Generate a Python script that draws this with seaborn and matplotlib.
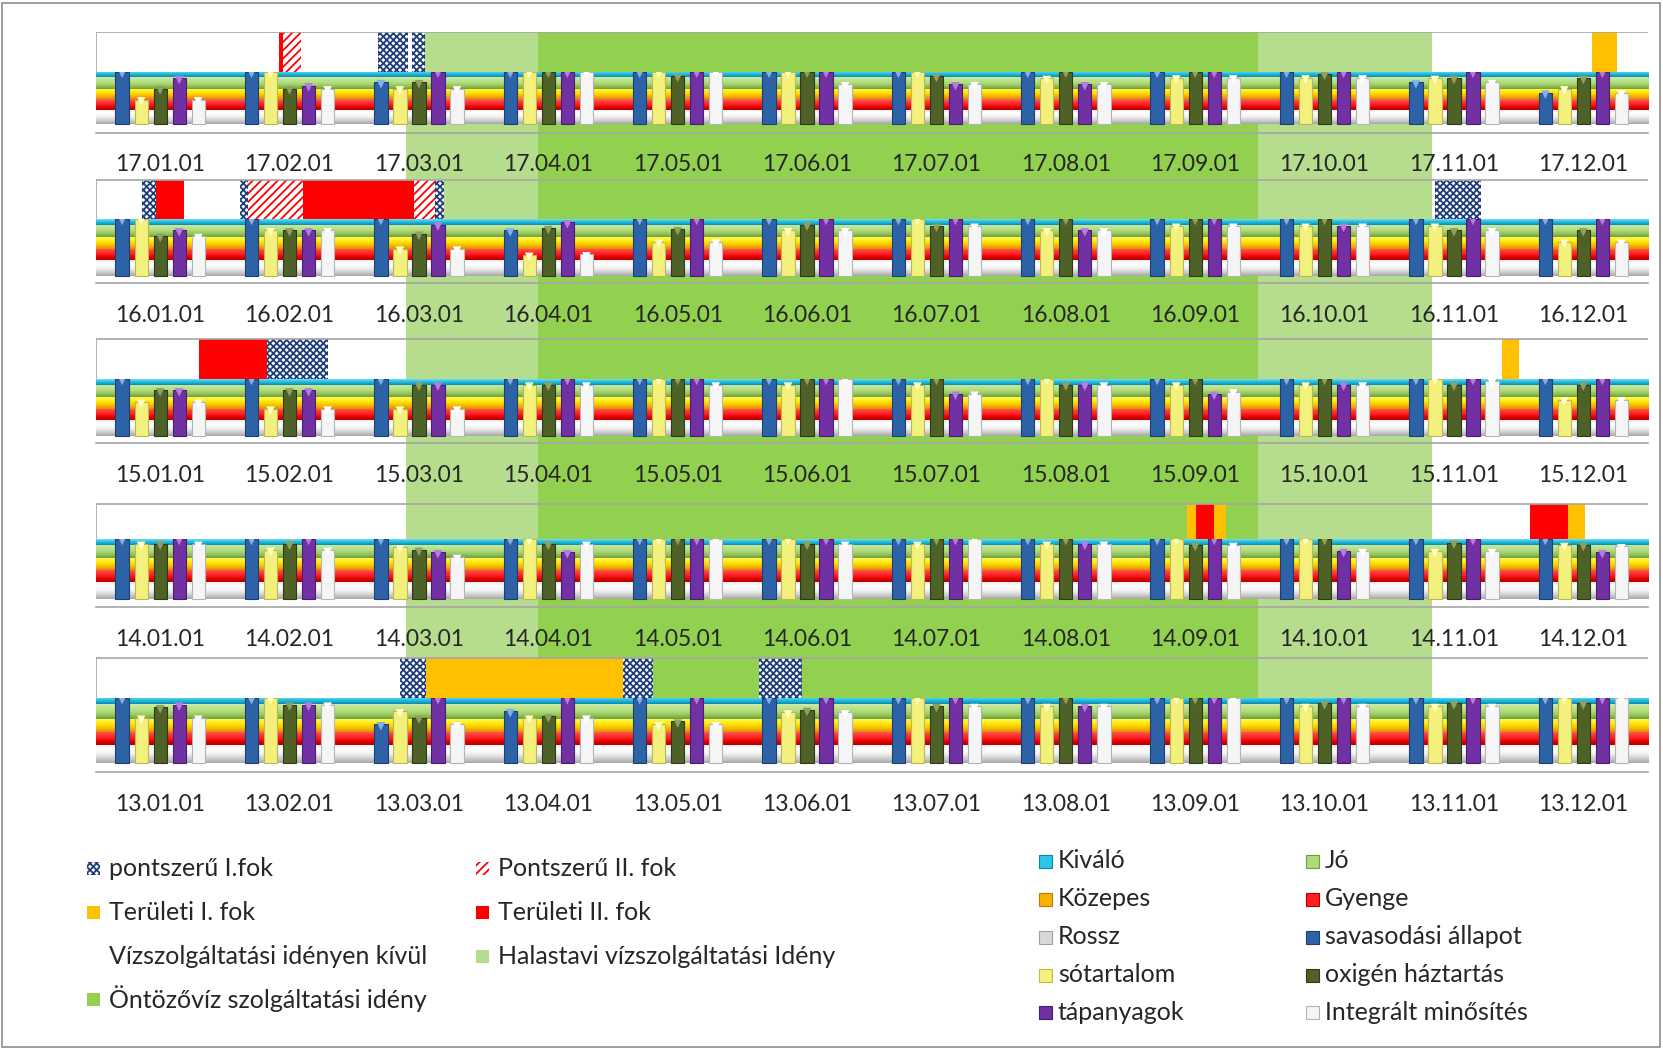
import numpy as np
import pandas as pd
import matplotlib.pyplot as plt
import seaborn as sns
from matplotlib.patches import Rectangle
from matplotlib.colors import to_rgb

sns.set_style('white')
plt.rcParams['font.family'] = ['Lato', 'DejaVu Sans']
plt.rcParams['hatch.linewidth'] = 1.3

# --- data -------------------------------------------------------------
years = ['17', '16', '15', '14', '13']
months = ['01', '02', '03', '04', '05', '06', '07', '08', '09', '10', '11', '12']
params = ['savasodási állapot', 'sótartalom', 'oxigén háztartás', 'tápanyagok', 'Integrált minősítés']

# bar heights (0..5 scale, 5 = Kiváló)
savasodasi = {
    '17': [5, 5, 4.0, 5, 5, 5, 5, 5, 5, 5, 4.0, 3.0],
    '16': [5, 5, 5, 4.0, 5, 5, 5, 5, 5, 5, 5, 5],
    '15': [5, 5, 5, 5, 5, 5, 5, 5, 5, 5, 5, 5],
    '14': [5, 5, 5, 5, 5, 5, 5, 5, 5, 5, 5, 5],
    '13': [5, 5, 3.0, 4.0, 5, 5, 5, 5, 5, 5, 5, 5],
}
sotartalom = {
    '17': [2.35, 5, 3.4, 5, 5, 5, 5, 4.4, 4.45, 4.45, 4.4, 3.4],
    '16': [5, 4.0, 2.4, 1.85, 3.0, 4.0, 5, 4.0, 4.4, 4.4, 4.4, 3.0],
    '15': [3.0, 2.4, 2.4, 4.5, 5, 4.5, 4.5, 5, 4.5, 4.5, 5, 3.2],
    '14': [4.6, 4.1, 4.3, 5, 5, 5, 4.6, 4.6, 5, 5, 4.0, 4.5],
    '13': [3.5, 5, 4.0, 3.5, 3.0, 3.9, 5, 4.4, 5, 4.4, 4.4, 5],
}
oxigen = {
    '17': [3.4, 3.4, 4.0, 5, 4.6, 5, 4.6, 5, 5, 4.8, 4.4, 4.4],
    '16': [3.5, 4.0, 3.7, 4.2, 4.1, 4.5, 4.4, 5, 5, 5, 4.0, 4.0],
    '15': [4.0, 4.0, 4.5, 4.5, 5, 5, 5, 4.5, 5, 5, 4.5, 4.5],
    '14': [4.6, 4.6, 4.1, 4.6, 5, 4.6, 5, 5, 4.5, 5, 4.7, 4.5],
    '13': [4.3, 4.5, 3.5, 3.6, 3.2, 4.1, 4.4, 5, 5, 4.6, 4.6, 4.6],
}
tapanyag = {
    '17': [4.4, 3.7, 5, 5, 5, 5, 3.8, 3.8, 5, 5, 5, 5],
    '16': [4.0, 4.0, 4.5, 4.7, 5, 5, 5, 4.0, 5, 4.4, 5, 5],
    '15': [4.0, 4.0, 4.5, 5, 5, 5, 3.7, 4.5, 3.7, 4.5, 5, 5],
    '14': [5, 5, 3.9, 3.9, 5, 5, 5, 4.6, 5, 4.0, 5, 3.9],
    '13': [4.5, 4.5, 5, 5, 5, 5, 5, 4.4, 5, 5, 5, 5],
}
integralt = {
    '17': [2.35, 3.4, 3.4, 5, 5, 3.8, 3.8, 3.8, 4.45, 4.45, 4.0, 3.0],
    '16': [3.5, 4.0, 2.4, 1.9, 3.0, 4.0, 4.4, 4.0, 4.4, 4.4, 4.0, 3.0],
    '15': [3.0, 2.4, 2.4, 4.5, 4.5, 5, 3.7, 4.5, 3.9, 4.5, 4.8, 3.2],
    '14': [4.6, 4.1, 3.5, 4.6, 5, 4.6, 5, 4.6, 4.5, 4.0, 4.0, 4.4],
    '13': [3.5, 4.5, 3.0, 3.5, 3.0, 3.9, 4.4, 4.4, 5, 4.4, 4.4, 5],
}

# alert periods in months from Jan 1: (start, end, kind)
# p1 = pontszerű I.fok, p2 = Pontszerű II. fok, t1 = Területi I. fok,
# t2 = Területi II. fok, off = Vízszolgáltatási idényen kívül
events = {
    '17': [(1.42, 1.45, 't2'), (1.45, 1.59, 'p2'), (2.18, 2.415, 'p1'),
           (2.415, 2.446, 'off'), (2.446, 2.546, 'p1'), (11.57, 11.76, 't1')],
    '16': [(0.36, 0.468, 'p1'), (0.468, 0.684, 't2'), (1.117, 1.179, 'p1'),
           (1.179, 1.604, 'p2'), (1.604, 2.462, 't2'), (2.462, 2.624, 'p2'),
           (2.624, 2.694, 'p1'), (10.35, 10.71, 'p1')],
    '15': [(0.80, 1.325, 't2'), (1.325, 1.797, 'p1'), (10.87, 11.0, 't1')],
    '14': [(8.44, 8.506, 't1'), (8.506, 8.648, 't2'), (8.648, 8.738, 't1'),
           (11.088, 11.384, 't2'), (11.384, 11.513, 't1')],
    '13': [(2.354, 2.554, 'p1'), (2.554, 4.075, 't1'), (4.075, 4.307, 'p1'),
           (5.131, 5.459, 'p1')],
}

halastavi_idény = (2.40, 10.33)
ontozo_idény = (3.42, 8.985)

# quality bands (lower, upper) on the 0..5 scale
band_names = ['Rossz', 'Gyenge', 'Közepes', 'Jó', 'Kiváló']
band_limits = [(0, 1.39), (1.39, 2.40), (2.40, 3.40), (3.40, 4.50), (4.50, 5.0)]

# --- style ------------------------------------------------------------
bar_colors = ['#2D62A6', '#F4F07C', '#4E6127', '#7131A3', '#F5F5F5']
bar_edges = ['#1C3F6E', '#BDB75A', '#2F3B16', '#4A1E6E', '#B5B5B5']
cap_colors = ['#7FB2EA', '#FFFFC0', '#8FA060', '#B27FE0', '#FFFFFF']
band_stops = [
    ['#A6A6A6', '#D0D0D0', '#F2F2F2', '#FFFFFF', '#EDEDED'],
    ['#B40000', '#E20000', '#FF1E1E', '#FF3A3A', '#FF6262'],
    ['#E08C00', '#F5B300', '#FFD800', '#FFEF1A', '#FFF45A'],
    ['#6E9E3A', '#92C45A', '#AEDB78', '#BEE38E', '#CDEBA6'],
    ['#0C86A6', '#18ADD2', '#2BC6E8', '#7EDDF2'],
]
event_style = {
    'p1': dict(facecolor='white', edgecolor='#1F3C7A', hatch='xxxxx', linewidth=0),
    'p2': dict(facecolor='white', edgecolor='#FF0000', hatch='////', linewidth=0),
    't1': dict(facecolor='#FFC000', edgecolor='none', linewidth=0),
    't2': dict(facecolor='#FF0000', edgecolor='none', linewidth=0),
    'off': dict(facecolor='white', edgecolor='none', linewidth=0),
}
LIGHT_GREEN = '#B6DD8D'
GREEN = '#92D050'
GRID = '#A6A6A6'
TXT = '#262626'
TICK_FS = 16.5
LEG_FS = 18

# pixel layout: shade top, strip top, band top, band bottom, axis line
W, H = 1663, 1049
X0, X1 = 95.5, 1648
layout = {
    '17': (32, 32, 72, 124, 132.7),
    '16': (124, 180, 219, 276, 283),
    '15': (276, 339, 379, 436, 443),
    '14': (436, 504, 539, 599, 607),
    '13': (599, 658, 698, 763, 772),
}


def band_image(ax, y0, y1, stops):
    t = np.linspace(0, 1, 64)
    cols = np.array([to_rgb(c) for c in stops])
    xs = np.linspace(0, 1, len(stops))
    img = np.stack([np.interp(t, xs, cols[:, k]) for k in range(3)], axis=-1)[:, None, :]
    ax.imshow(img, extent=(-0.5, 11.5, y0, y1), origin='lower', aspect='auto',
              interpolation='bilinear', zorder=0.5)


fig = plt.figure(figsize=(W / 100, H / 100), dpi=100)

for r, yr in enumerate(years):
    shade_top, strip_top, band_top, band_bot, axis_y = layout[yr]
    labels = [f'{yr}.{m}.01' for m in months]

    # event strip + season shading
    axs = fig.add_axes([X0 / W, 1 - band_top / H, (X1 - X0) / W, (band_top - shade_top) / H], zorder=1)
    s = (band_top - strip_top) / (band_top - shade_top)
    axs.set_xlim(-0.5, 11.5)
    axs.set_ylim(0, 1)
    axs.axvspan(halastavi_idény[0] - 0.5, halastavi_idény[1] - 0.5, color=LIGHT_GREEN, lw=0, zorder=0)
    axs.axvspan(ontozo_idény[0] - 0.5, ontozo_idény[1] - 0.5, color=GREEN, lw=0, zorder=0.1)
    for a, b, kind in events[yr]:
        axs.barh(s / 2, b - a, left=a - 0.5, height=s, zorder=2, **event_style[kind])
    axs.axhline(s, color=GRID, lw=1.2, zorder=3)
    axs.axvline(-0.5, ymin=0, ymax=s, color=GRID, lw=1.2, zorder=3)
    axs.axis('off')

    # quality bands + bars
    pxu = (band_bot - band_top) / 5
    ax = fig.add_axes([X0 / W, 1 - axis_y / H, (X1 - X0) / W, (axis_y - band_top) / H], zorder=10 - r)
    ax.patch.set_alpha(0)
    for (lo, hi), stops in zip(band_limits, band_stops):
        band_image(ax, lo, hi, stops)

    df = pd.DataFrame({
        'honap': labels * 5,
        'parameter': np.repeat(params, 12),
        'ertek': np.concatenate([savasodasi[yr], sotartalom[yr], oxigen[yr],
                                 tapanyag[yr], integralt[yr]]),
    })
    sns.barplot(data=df, x='honap', y='ertek', hue='parameter', order=labels,
                hue_order=params, palette=bar_colors, saturation=1, width=0.735,
                gap=0.3, errorbar=None, legend=False, ax=ax, zorder=2)
    for k, p in enumerate(ax.patches):
        j = k // 12
        p.set_edgecolor(bar_edges[j])
        p.set_linewidth(0.8)
        cx = p.get_x() + p.get_width() / 2
        ax.scatter(cx, p.get_height() - 0.17, marker='v', s=38, color=cap_colors[j],
                   edgecolor='none', zorder=3)

    ax.set_xlim(-0.5, 11.5)
    ax.set_ylim(-(axis_y - band_bot) / pxu, 5)
    ax.set_xlabel('')
    ax.set_ylabel('')
    ax.set_yticks([])
    ax.set_xticks(range(12))
    ax.set_xticklabels(labels, fontsize=TICK_FS, color=TXT)
    ax.tick_params(axis='x', which='major', length=0, pad=15.5)
    ax.set_xticks(np.arange(-0.5, 12, 1), minor=True)
    ax.tick_params(axis='x', which='minor', length=6, width=1, color=GRID, direction='out')
    for side in ['top', 'left', 'right']:
        ax.spines[side].set_visible(False)
    ax.spines['bottom'].set_color(GRID)
    ax.spines['bottom'].set_linewidth(1.2)

# --- legends ----------------------------------------------------------
left_items = [
    ('pontszerű I.fok', event_style['p1'], 93, 868),
    ('Pontszerű II. fok', event_style['p2'], 482, 868),
    ('Területi I. fok', event_style['t1'], 93, 912),
    ('Területi II. fok', event_style['t2'], 482, 912),
    ('Vízszolgáltatási idényen kívül', event_style['off'], 93, 956),
    ('Halastavi vízszolgáltatási Idény', dict(facecolor=LIGHT_GREEN, linewidth=0), 482, 956),
    ('Öntözővíz szolgáltatási idény', dict(facecolor=GREEN, linewidth=0), 93, 999),
]
for text, style, mx, my in left_items:
    fig.patches.append(Rectangle(((mx - 6.5) / W, 1 - (my + 6.5) / H), 13 / W, 13 / H,
                                 transform=fig.transFigure, **style))
    fig.text((mx + 16) / W, 1 - my / H, text, fontsize=LEG_FS, color=TXT, va='center', ha='left')

right_items = [
    ('Kiváló', band_stops[4][2], '#0C86A6'),
    ('Jó', band_stops[3][2], '#6E9E3A'),
    ('Közepes', band_stops[2][1], '#C07800'),
    ('Gyenge', band_stops[1][2], '#B00000'),
    ('Rossz', '#D9D9D9', '#A0A0A0'),
    (params[0], bar_colors[0], bar_edges[0]),
    (params[1], bar_colors[1], bar_edges[1]),
    (params[2], bar_colors[2], bar_edges[2]),
    (params[3], bar_colors[3], bar_edges[3]),
    (params[4], bar_colors[4], bar_edges[4]),
]
row_y = [861, 899, 937, 975, 1012]
col_x = [1045, 1312]
for i, (text, fc, ec) in enumerate(right_items):
    mx, my = col_x[i % 2], row_y[i // 2]
    fig.patches.append(Rectangle(((mx - 6.5) / W, 1 - (my + 6.5) / H), 13 / W, 13 / H,
                                 transform=fig.transFigure, facecolor=fc, edgecolor=ec, lw=0.8))
    fig.text((mx + 13) / W, 1 - my / H, text, fontsize=LEG_FS, color=TXT, va='center', ha='left')

fig.patches.append(Rectangle((2 / W, 2 / H), (W - 5) / W, (H - 5) / H, transform=fig.transFigure,
                             fill=False, edgecolor='#8C8C8C', lw=1.2))

fig.savefig('out.png', dpi=100)
